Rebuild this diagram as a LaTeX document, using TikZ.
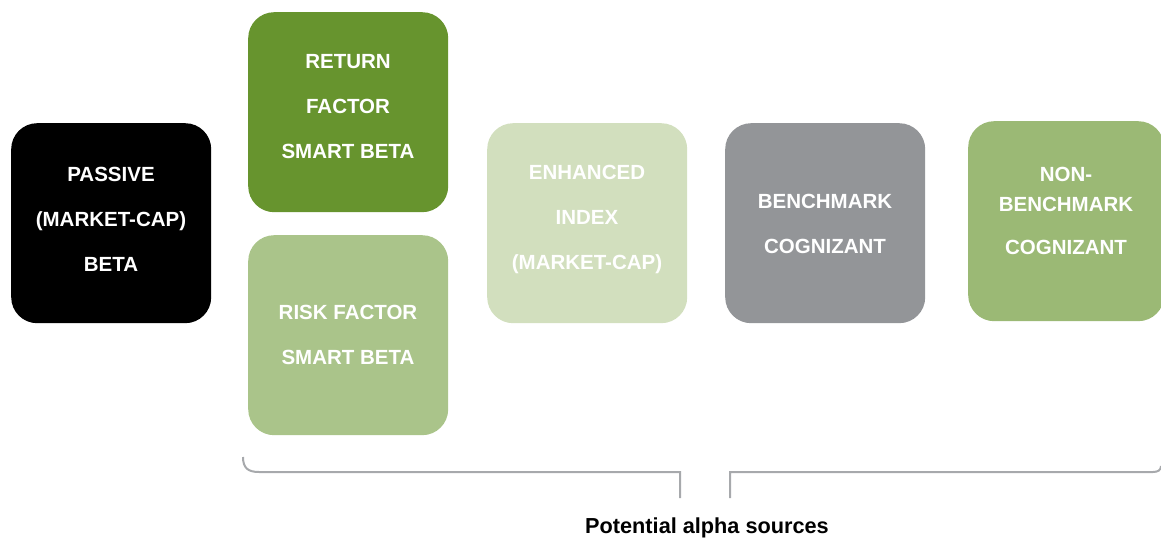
\documentclass[tikz,border=0pt]{standalone}
\usepackage{fontspec}
\setmainfont{Liberation Sans}
\definecolor{passivec}{HTML}{000000}
\definecolor{returnc}{HTML}{67942E}
\definecolor{riskc}{HTML}{AAC48A}
\definecolor{enhancedc}{HTML}{D2DFBE}
\definecolor{benchc}{HTML}{939598}
\definecolor{nonbenchc}{HTML}{9BB975}
\definecolor{bracketc}{HTML}{A7A9AC}
\begin{document}
\begin{tikzpicture}[x=1pt,y=-1pt,
  tile/.style={rounded corners=26pt, minimum width=200pt, minimum height=200pt,
    inner sep=0pt, anchor=north west},
  tiletext/.style={text=white, align=center, inner sep=0pt,
    font=\bfseries\fontsize{20.5}{45}\selectfont},
  bracketline/.style={draw=bracketc, line width=2pt}]
\useasboundingbox (0,0) rectangle (1161,540);
\clip (0,0) rectangle (1161,540);

% coloured tiles
\node[tile, fill=passivec] (passive) at (11,123) {};
\node[tile, fill=returnc] (return) at (248,12) {};
\node[tile, fill=riskc] (risk) at (248,235) {};
\node[tile, fill=enhancedc] (enhanced) at (487,123) {};
\node[tile, fill=benchc] (bench) at (725,123) {};
\node[tile, fill=nonbenchc, minimum width=196pt] (nonbench) at (968,121) {};

% tile captions
\node[tiletext] (passivetext) at (111,219) {PASSIVE\\(MARKET-CAP)\\BETA};
\node[tiletext] (returntext) at (348,107) {RETURN\\FACTOR\\SMART BETA};
\node[tiletext] (risktext) at (348,335) {RISK FACTOR\\SMART BETA};
\node[tiletext] (enhancedtext) at (587,219) {ENHANCED\\INDEX\\(MARKET-CAP)};
\node[tiletext] (benchtext) at (825,223.5) {BENCHMARK\\COGNIZANT};
\node[tiletext, font=\bfseries\fontsize{20.5}{30}\selectfont] (nonbenchtext) at (1066,210.5) {NON-\\BENCHMARK\\[13pt]COGNIZANT};

% bracket under the alpha sources
\coordinate (bl) at (243,457);
\coordinate (bm) at (680,472);
\coordinate (bmr) at (730,472);
\coordinate (br) at (1161,466);
\draw[bracketline] (bl) .. controls (243,468) and (248,472) .. (259,472) -- (bm) -- (680,498);
\draw[bracketline] (730,498) -- (bmr) -- (1153,472) .. controls (1158,472) and (1161,470) .. (br);

\node[font=\bfseries\fontsize{21.7}{24}\selectfont] (label) at (707,528) {Potential alpha sources};
\end{tikzpicture}
\end{document}
